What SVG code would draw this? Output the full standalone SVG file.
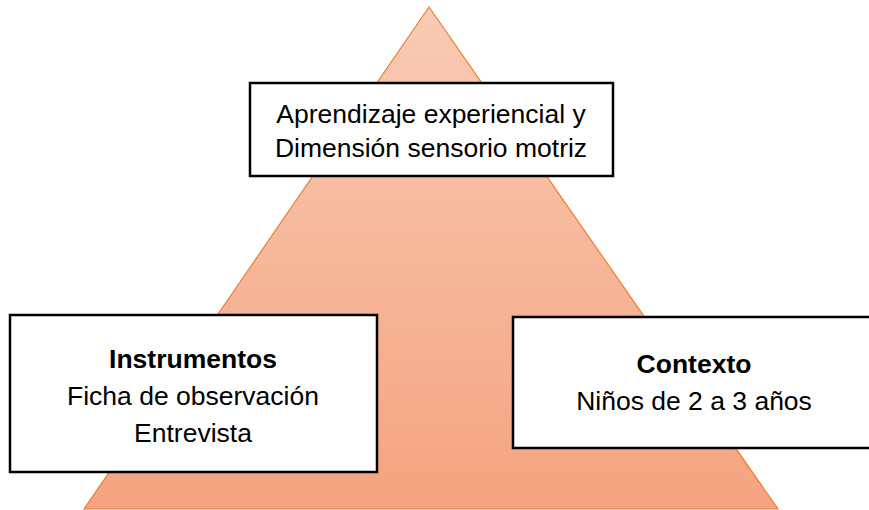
<svg xmlns="http://www.w3.org/2000/svg" width="869" height="510" viewBox="0 0 869 510">
<defs>
<linearGradient id="g" x1="0" y1="0" x2="0" y2="1">
<stop offset="0" stop-color="#F9CBB5"/>
<stop offset="1" stop-color="#F4A37F"/>
</linearGradient>
<style>
.box{fill:#fff;stroke:#000;stroke-width:2.5}
.t{font-family:"Liberation Sans",Arial,sans-serif;font-size:26.5px;fill:#000;text-anchor:middle}
.b{font-weight:bold}
</style>
</defs>
<rect width="869" height="510" fill="#fff"/>
<g id="pyramid"><polygon points="429,7 84,509 778,509" fill="url(#g)" stroke="#ED7D31" stroke-width="1.2"/></g>
<g id="connectors"></g>
<g id="top">
<rect class="box" x="250" y="83" width="363" height="93"/>
<text class="t" x="431" y="123">Aprendizaje experiencial y</text>
<text class="t" x="431" y="157">Dimensión sensorio motriz</text>
</g>
<g id="left">
<rect class="box" x="10" y="315" width="367" height="157"/>
<text class="t b" x="193" y="368">Instrumentos</text>
<text class="t" x="193" y="405">Ficha de observación</text>
<text class="t" x="193" y="442">Entrevista</text>
</g>
<g id="right">
<rect class="box" x="513" y="317" width="360" height="131"/>
<text class="t b" x="694" y="373">Contexto</text>
<text class="t" x="694" y="410">Niños de 2 a 3 años</text>
</g>
</svg>
